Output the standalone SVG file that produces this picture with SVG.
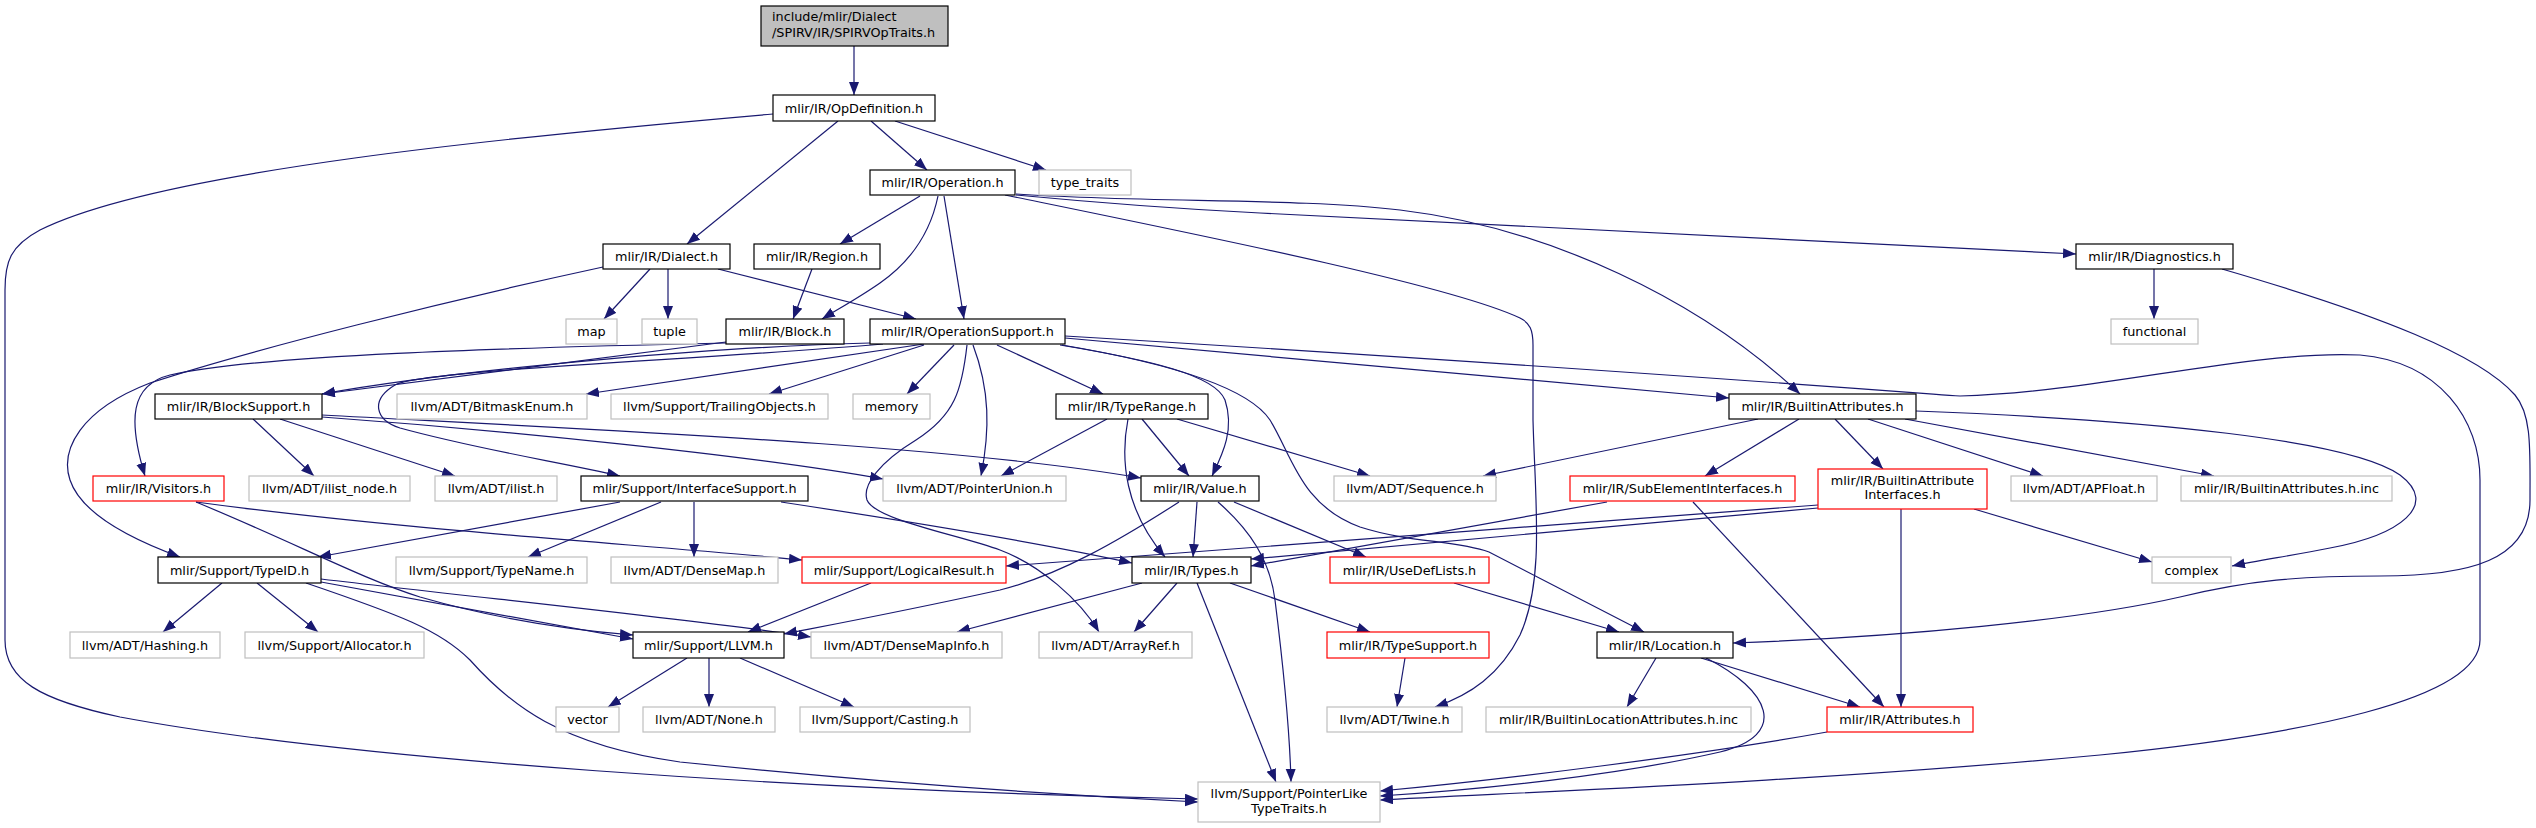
<svg xmlns="http://www.w3.org/2000/svg" width="2536" height="828" viewBox="0 0 2536 828">
<defs>
<style>
rect{fill:#fff;stroke:#000;stroke-width:1.2}
.g rect{stroke:#bfbfbf}
.r rect{stroke:#ff0000}
.t rect{fill:#bfbfbf}
text{font-family:"DejaVu Sans","Liberation Sans",sans-serif;font-size:12.8px;fill:#000;text-anchor:middle}
.l text{text-anchor:start}
#edges path{fill:none;stroke:#191970;stroke-width:1.2;marker-end:url(#a)}
</style>
<marker id="a" markerUnits="userSpaceOnUse" markerWidth="14" markerHeight="11" refX="13" refY="5" orient="auto">
<path d="M0,0 L13,5 L0,10 z" fill="#191970"/>
</marker>
</defs>
<rect x="0" y="0" width="2536" height="828" style="stroke:none;fill:#fff"/>
<g id="edges">
<path d="M854,46 L854,95"/>
<path d="M773,114 C520,136 160,170 40,230 C10,246 5,262 5,290 L5,640 C5,680 40,700 120,717 C350,760 800,790 1198,799"/>
<path d="M838,121 L687,244"/>
<path d="M871,121 L927,170"/>
<path d="M895,121 L1046,170"/>
<path d="M920,196 L840,244"/>
<path d="M938,196 C930,235 910,262 880,283 C860,297 840,308 822,319"/>
<path d="M944,196 L964,319"/>
<path d="M1005,195 C1200,235 1450,285 1520,318 C1530,323 1533,330 1533,345 L1533,420 C1535,500 1545,580 1520,635 C1500,675 1470,695 1435,707"/>
<path d="M1016,194 C1150,203 1300,198 1400,210 C1550,228 1700,300 1800,394"/>
<path d="M1016,195 C1100,203 1200,210 1260,213 L2076,254"/>
<path d="M650,269 L604,319"/>
<path d="M668,269 L668,319"/>
<path d="M718,269 L916,319"/>
<path d="M603,267 C450,300 250,350 150,383 C80,410 60,450 70,480 C80,510 120,535 180,557"/>
<path d="M812,269 L793,319"/>
<path d="M726,342 L322,394"/>
<path d="M870,343 C740,346 480,366 322,394"/>
<path d="M726,343 C500,348 260,355 170,375 C130,385 128,420 145,476"/>
<path d="M2154,269 L2154,319"/>
<path d="M2222,269 C2380,315 2480,355 2515,395 C2532,415 2530,450 2530,500 C2530,560 2470,576 2380,576 C2300,576 2250,580 2180,597 C2080,620 1900,637 1733,643"/>
<path d="M883,344 C700,360 420,370 395,385 C370,400 375,420 400,428 C480,450 560,462 620,476"/>
<path d="M924,344 L586,394"/>
<path d="M924,345 L769,394"/>
<path d="M954,345 L907,394"/>
<path d="M973,345 C990,390 990,430 981,476"/>
<path d="M997,345 L1103,394"/>
<path d="M1060,345 C1150,360 1215,375 1225,400 C1235,430 1222,455 1212,476"/>
<path d="M967,345 C962,390 955,415 916,440 C880,462 862,485 867,500 C875,520 960,535 1000,550 C1040,565 1080,600 1099,632"/>
<path d="M1065,338 L1729,398"/>
<path d="M1065,336 C1500,362 1850,388 1960,396 C2100,392 2250,350 2360,355 C2440,362 2480,420 2480,480 L2480,640 C2480,700 2300,735 2100,755 C1800,783 1500,793 1380,800"/>
<path d="M1062,345 C1180,365 1250,390 1270,420 C1292,455 1300,505 1360,527 C1410,543 1455,540 1489,552 L1644,632"/>
<path d="M1107,419 L1001,476"/>
<path d="M1128,419 C1120,460 1125,510 1165,557"/>
<path d="M1142,419 L1189,476"/>
<path d="M1177,419 L1370,476"/>
<path d="M253,419 L314,476"/>
<path d="M280,419 L455,476"/>
<path d="M322,415 C600,430 950,445 1141,478"/>
<path d="M322,417 C500,430 750,455 883,479"/>
<path d="M1758,419 L1483,476"/>
<path d="M1799,419 L1705,476"/>
<path d="M1835,419 L1883,469"/>
<path d="M1868,419 L2043,476"/>
<path d="M1905,419 L2214,476"/>
<path d="M1916,411 C2150,420 2350,440 2400,475 C2440,505 2400,535 2330,548 C2290,556 2260,560 2232,566"/>
<path d="M196,502 C300,545 360,578 420,597 C500,620 570,630 633,635"/>
<path d="M196,502 C400,530 650,545 802,560"/>
<path d="M620,502 L318,557"/>
<path d="M661,502 L528,557"/>
<path d="M694,502 L694,557"/>
<path d="M781,502 C900,520 1050,545 1132,563"/>
<path d="M1179,502 C1120,540 1060,575 1000,590 C900,612 830,625 784,634"/>
<path d="M1197,502 L1193,557"/>
<path d="M1218,502 C1250,530 1270,560 1275,600 C1285,680 1290,740 1291,782"/>
<path d="M1234,502 L1366,557"/>
<path d="M1607,502 L1251,566"/>
<path d="M1693,502 L1884,707"/>
<path d="M1818,505 L1006,566"/>
<path d="M1818,508 L1251,559"/>
<path d="M1901,509 L1901,707"/>
<path d="M1974,509 L2152,562"/>
<path d="M222,583 L163,632"/>
<path d="M257,583 L318,632"/>
<path d="M321,582 L633,639"/>
<path d="M321,579 C500,600 700,620 811,637"/>
<path d="M306,583 C400,615 440,630 470,660 C510,705 560,745 680,762 C900,785 1100,797 1198,802"/>
<path d="M871,583 L748,632"/>
<path d="M1142,583 L957,632"/>
<path d="M1177,583 L1134,632"/>
<path d="M1197,583 L1276,782"/>
<path d="M1230,583 L1370,632"/>
<path d="M1454,583 L1619,632"/>
<path d="M687,658 L608,707"/>
<path d="M709,658 L709,707"/>
<path d="M740,658 L854,707"/>
<path d="M1405,658 L1397,707"/>
<path d="M1656,658 L1627,707"/>
<path d="M1701,658 L1860,707"/>
<path d="M1706,658 C1770,690 1790,735 1720,752 C1620,775 1480,790 1380,796"/>
<path d="M1827,732 C1700,755 1500,780 1380,791"/>
</g>
<g id="n_top" class="t l"><rect x="761" y="6" width="187" height="40"/><text x="772" y="21">include/mlir/Dialect</text><text x="772" y="36.5">/SPIRV/IR/SPIRVOpTraits.h</text></g>
<g id="n_opdef"><rect x="773" y="95" width="162" height="26"/><text x="854" y="112.5">mlir/IR/OpDefinition.h</text></g>
<g id="n_operation"><rect x="870" y="170" width="145" height="25"/><text x="942.5" y="187">mlir/IR/Operation.h</text></g>
<g id="n_type_traits" class="g"><rect x="1039" y="170" width="92" height="25"/><text x="1085" y="187">type_traits</text></g>
<g id="n_dialect"><rect x="603" y="244" width="127" height="25"/><text x="666.5" y="261">mlir/IR/Dialect.h</text></g>
<g id="n_region"><rect x="754" y="244" width="126" height="25"/><text x="817" y="261">mlir/IR/Region.h</text></g>
<g id="n_diagnostics"><rect x="2076" y="244" width="157" height="25"/><text x="2154.5" y="261">mlir/IR/Diagnostics.h</text></g>
<g id="n_map" class="g"><rect x="566" y="319" width="51" height="25"/><text x="591.5" y="336">map</text></g>
<g id="n_tuple" class="g"><rect x="642" y="319" width="55" height="25"/><text x="669.5" y="336">tuple</text></g>
<g id="n_block"><rect x="726" y="319" width="118" height="25"/><text x="785" y="336">mlir/IR/Block.h</text></g>
<g id="n_opsupport"><rect x="870" y="319" width="195" height="25"/><text x="967.5" y="336">mlir/IR/OperationSupport.h</text></g>
<g id="n_functional" class="g"><rect x="2111" y="319" width="87" height="25"/><text x="2154.5" y="336">functional</text></g>
<g id="n_blocksupport"><rect x="155" y="394" width="167" height="25"/><text x="238.5" y="411">mlir/IR/BlockSupport.h</text></g>
<g id="n_bitmask" class="g"><rect x="397" y="394" width="190" height="25"/><text x="492" y="411">llvm/ADT/BitmaskEnum.h</text></g>
<g id="n_trailing" class="g"><rect x="611" y="394" width="217" height="25"/><text x="719.5" y="411">llvm/Support/TrailingObjects.h</text></g>
<g id="n_memory" class="g"><rect x="853" y="394" width="77" height="25"/><text x="891.5" y="411">memory</text></g>
<g id="n_typerange"><rect x="1056" y="394" width="152" height="25"/><text x="1132" y="411">mlir/IR/TypeRange.h</text></g>
<g id="n_builtinattrs"><rect x="1729" y="394" width="187" height="25"/><text x="1822.5" y="411">mlir/IR/BuiltinAttributes.h</text></g>
<g id="n_visitors" class="r"><rect x="93" y="476" width="131" height="25"/><text x="158.5" y="493">mlir/IR/Visitors.h</text></g>
<g id="n_ilist_node" class="g"><rect x="249" y="476" width="161" height="25"/><text x="329.5" y="493">llvm/ADT/ilist_node.h</text></g>
<g id="n_ilist" class="g"><rect x="435" y="476" width="122" height="25"/><text x="496" y="493">llvm/ADT/ilist.h</text></g>
<g id="n_ifacesupport"><rect x="581" y="476" width="227" height="25"/><text x="694.5" y="493">mlir/Support/InterfaceSupport.h</text></g>
<g id="n_pointerunion" class="g"><rect x="883" y="476" width="183" height="25"/><text x="974.5" y="493">llvm/ADT/PointerUnion.h</text></g>
<g id="n_value"><rect x="1141" y="476" width="118" height="25"/><text x="1200" y="493">mlir/IR/Value.h</text></g>
<g id="n_sequence" class="g"><rect x="1334" y="476" width="162" height="25"/><text x="1415" y="493">llvm/ADT/Sequence.h</text></g>
<g id="n_subelem" class="r"><rect x="1570" y="476" width="225" height="25"/><text x="1682.5" y="493">mlir/IR/SubElementInterfaces.h</text></g>
<g id="n_bai" class="r"><rect x="1818" y="469" width="169" height="40"/><text x="1902.5" y="484.5">mlir/IR/BuiltinAttribute</text><text x="1902.5" y="499">Interfaces.h</text></g>
<g id="n_apfloat" class="g"><rect x="2011" y="476" width="146" height="25"/><text x="2084" y="493">llvm/ADT/APFloat.h</text></g>
<g id="n_bainc" class="g"><rect x="2181" y="476" width="211" height="25"/><text x="2286.5" y="493">mlir/IR/BuiltinAttributes.h.inc</text></g>
<g id="n_typeid"><rect x="158" y="557" width="163" height="26"/><text x="239.5" y="574.5">mlir/Support/TypeID.h</text></g>
<g id="n_typename" class="g"><rect x="396" y="557" width="191" height="26"/><text x="491.5" y="574.5">llvm/Support/TypeName.h</text></g>
<g id="n_densemap" class="g"><rect x="611" y="557" width="167" height="26"/><text x="694.5" y="574.5">llvm/ADT/DenseMap.h</text></g>
<g id="n_logicalresult" class="r"><rect x="802" y="557" width="204" height="26"/><text x="904" y="574.5">mlir/Support/LogicalResult.h</text></g>
<g id="n_types"><rect x="1132" y="557" width="119" height="26"/><text x="1191.5" y="574.5">mlir/IR/Types.h</text></g>
<g id="n_usedef" class="r"><rect x="1330" y="557" width="159" height="26"/><text x="1409.5" y="574.5">mlir/IR/UseDefLists.h</text></g>
<g id="n_complex" class="g"><rect x="2152" y="557" width="79" height="26"/><text x="2191.5" y="574.5">complex</text></g>
<g id="n_hashing" class="g"><rect x="70" y="632" width="150" height="26"/><text x="145" y="649.5">llvm/ADT/Hashing.h</text></g>
<g id="n_allocator" class="g"><rect x="245" y="632" width="179" height="26"/><text x="334.5" y="649.5">llvm/Support/Allocator.h</text></g>
<g id="n_llvm"><rect x="633" y="632" width="151" height="26"/><text x="708.5" y="649.5">mlir/Support/LLVM.h</text></g>
<g id="n_densemapinfo" class="g"><rect x="811" y="632" width="191" height="26"/><text x="906.5" y="649.5">llvm/ADT/DenseMapInfo.h</text></g>
<g id="n_arrayref" class="g"><rect x="1039" y="632" width="153" height="26"/><text x="1115.5" y="649.5">llvm/ADT/ArrayRef.h</text></g>
<g id="n_typesupport" class="r"><rect x="1327" y="632" width="162" height="26"/><text x="1408" y="649.5">mlir/IR/TypeSupport.h</text></g>
<g id="n_location"><rect x="1597" y="632" width="136" height="26"/><text x="1665" y="649.5">mlir/IR/Location.h</text></g>
<g id="n_vector" class="g"><rect x="556" y="707" width="63" height="25"/><text x="587.5" y="724">vector</text></g>
<g id="n_none" class="g"><rect x="643" y="707" width="132" height="25"/><text x="709" y="724">llvm/ADT/None.h</text></g>
<g id="n_casting" class="g"><rect x="800" y="707" width="170" height="25"/><text x="885" y="724">llvm/Support/Casting.h</text></g>
<g id="n_twine" class="g"><rect x="1327" y="707" width="135" height="25"/><text x="1394.5" y="724">llvm/ADT/Twine.h</text></g>
<g id="n_blainc" class="g"><rect x="1486" y="707" width="265" height="25"/><text x="1618.5" y="724">mlir/IR/BuiltinLocationAttributes.h.inc</text></g>
<g id="n_attributes" class="r"><rect x="1827" y="707" width="146" height="25"/><text x="1900" y="724">mlir/IR/Attributes.h</text></g>
<g id="n_pointerlike" class="g"><rect x="1198" y="782" width="182" height="40"/><text x="1289" y="797.5">llvm/Support/PointerLike</text><text x="1289" y="812.5">TypeTraits.h</text></g>
</svg>
